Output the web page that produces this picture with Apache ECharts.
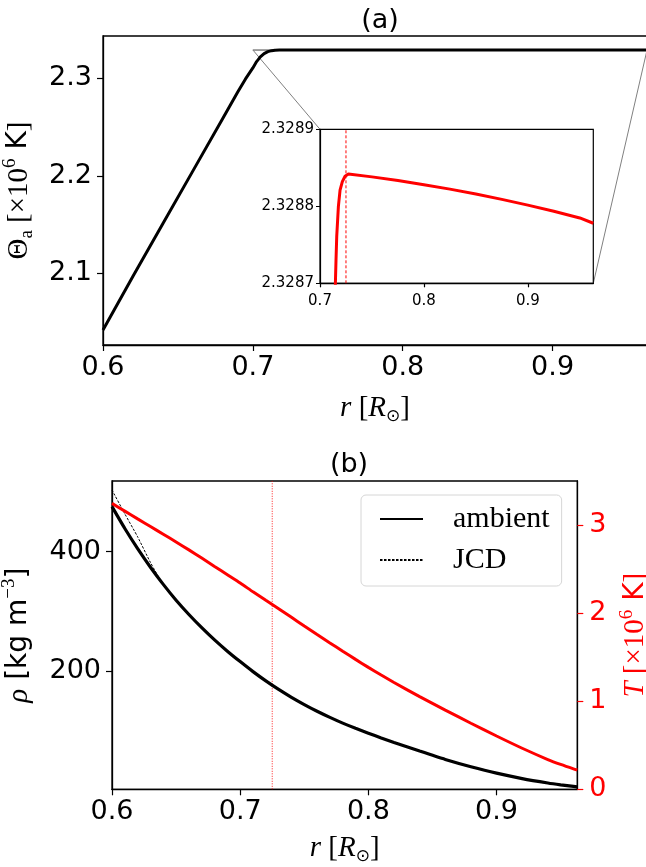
<!DOCTYPE html>
<html><head><meta charset="utf-8">
<script src="https://cdn.jsdelivr.net/npm/echarts@6/dist/echarts.min.js"></script>
<style>html,body{margin:0;padding:0;background:#fff}#c{width:646px;height:867px}</style>
</head><body><div id="c"></div>
<script>
// ---- panel (a): Theta_a vs r ----
const thetaR   = [0.6, 0.62, 0.64, 0.66, 0.68, 0.69, 0.695, 0.7, 0.7025, 0.705, 0.7075, 0.71, 0.7125, 0.7148, 0.7154, 0.7161, 0.7177, 0.7193, 0.7215, 0.7241, 0.7273, 0.75, 0.775, 0.8, 0.825, 0.85, 0.875, 0.9, 0.925, 0.95, 0.963];
const thetaVal = [2.0420, 2.0970, 2.1510, 2.2050, 2.2590, 2.2860, 2.2990, 2.3105, 2.3170, 2.3218, 2.3252, 2.3272, 2.3282, 2.3287, 2.32873, 2.328761, 2.3288, 2.328821, 2.328832, 2.328839, 2.328842, 2.3288382, 2.3288334, 2.3288281, 2.3288223, 2.3288159, 2.3288090, 2.3288015, 2.3287935, 2.3287849, 2.328778];
const insetXRange = [0.7, 0.963];
const insetYRange = [2.3287, 2.3289];
const bczR = 0.725;
const xTicks = [0.6, 0.7, 0.8, 0.9];
const thetaTicks = [2.1, 2.2, 2.3];
const insetXTicks = [0.7, 0.8, 0.9];
const insetYTicks = [2.3287, 2.3288, 2.3289];
// ---- panel (b): rho and T vs r ----
const rR     = [0.60, 0.61, 0.62, 0.63, 0.64, 0.65, 0.66, 0.67, 0.68, 0.69, 0.70, 0.71, 0.72, 0.73, 0.74, 0.75, 0.76, 0.77, 0.78, 0.79, 0.80, 0.81, 0.82, 0.84, 0.86, 0.88, 0.90, 0.92, 0.94, 0.95, 0.96, 0.963];
const rhoAmb = [475.5, 438.9, 405.2, 374.0, 345.3, 318.8, 294.9, 272.8, 252.3, 233.4, 215.9, 199.1, 183.6, 169.3, 156.1, 144.0, 132.8, 122.5, 112.9, 104.2, 96.1, 88.1, 80.5, 66.0, 52.0, 39.8, 29.0, 20.0, 12.6, 9.5, 6.8, 6.0];
const rhoJCD = [503.4, 463.5, 425.0, 382.0, 344.5, 317.6, 293.7, 271.7, 251.3, 232.4, 215.0, 198.3, 182.8, 168.6, 155.5, 143.4, 132.3, 122.0, 112.4, 103.8, 95.7, 87.8, 80.2, 65.7, 51.8, 39.6, 28.9, 19.9, 12.5, 9.4, 6.7, 5.9];
const tempT  = [3.246, 3.158, 3.070, 2.983, 2.896, 2.808, 2.718, 2.625, 2.530, 2.436, 2.342, 2.242, 2.145, 2.050, 1.952, 1.853, 1.757, 1.662, 1.568, 1.475, 1.384, 1.297, 1.213, 1.052, 0.899, 0.750, 0.605, 0.466, 0.338, 0.282, 0.232, 0.219];
const rhoRange = [2, 518.5];
const tRange = [0, 3.5];
const rhoTicks = [200, 400];
const tTicks = [0, 1, 2, 3];
const legendNames = ['ambient', 'JCD'];

const zip = (a, b) => a.map((v, i) => [v, b[i]]);
const SANS = 'DejaVu Sans';
const SERIF = 'Liberation Serif';
const FS = 27;

function xAxisCfg(grid, min, max, ticks, fs, name, nameGap, tickLen, margin) {
  return {
    type: 'value', gridIndex: grid, min, max,
    axisLine: { onZero: false, lineStyle: { color: '#000', width: 1.3 } },
    axisTick: { inside: false, length: tickLen, customValues: ticks, lineStyle: { color: '#000', width: 1.2 } },
    axisLabel: { customValues: ticks, formatter: v => v.toFixed(1), color: '#000', fontFamily: SANS, fontSize: fs, margin },
    splitLine: { show: false },
    name: name, nameLocation: 'middle', nameGap: nameGap,
    nameTextStyle: {
      rich: {
        i: { fontFamily: SERIF, fontStyle: 'italic', fontSize: 29, lineHeight: 34, color: '#000' },
        n: { fontFamily: SERIF, fontSize: 29, lineHeight: 34, color: '#000' },
        sub: { fontFamily: 'DejaVu Sans', fontSize: 17, lineHeight: 17, verticalAlign: 'bottom', color: '#000' }
      }
    }
  };
}
const rName = '{i|r}{n| [}{i|R}{sub|⊙}{n|]}';
const gridBase = { show: true, borderColor: '#000', borderWidth: 1.3, backgroundColor: 'transparent', outerBoundsMode: 'none', containLabel: false };

const option = {
  animation: false,
  backgroundColor: '#fff',
  title: [
    { text: '(a)', left: 375, top: 2, textAlign: 'center', textStyle: { fontFamily: SANS, fontSize: FS, fontWeight: 'normal', color: '#000' } },
    { text: '(b)', left: 344, top: 446, textAlign: 'center', textStyle: { fontFamily: SANS, fontSize: FS, fontWeight: 'normal', color: '#000' } }
  ],
  grid: [
    Object.assign({}, gridBase, { left: 103, top: 36, width: 544, height: 309 }),
    Object.assign({}, gridBase, { left: 112, top: 481, width: 465.3, height: 308.3 }),
    Object.assign({}, gridBase, { left: 320, top: 129.3, width: 273.3, height: 154, borderWidth: 1.2, backgroundColor: '#fff', z: 3 })
  ],
  xAxis: [
    xAxisCfg(0, 0.6, 0.963, xTicks, FS, rName, 46, 6, 9),
    xAxisCfg(1, 0.6, 0.963, xTicks, FS, rName, 42, 6, 9),
    Object.assign(xAxisCfg(2, insetXRange[0], insetXRange[1], insetXTicks, 15, '', 0, 4, 10), { z: 4 })
  ],
  yAxis: [
    {
      type: 'value', gridIndex: 0, min: 2.0266, max: 2.3432,
      axisLine: { onZero: false, lineStyle: { color: '#000', width: 1.3 } },
      axisTick: { length: 6, customValues: thetaTicks, lineStyle: { color: '#000', width: 1.2 } },
      axisLabel: { customValues: thetaTicks, formatter: v => v.toFixed(1), color: '#000', fontFamily: SANS, fontSize: FS, margin: 11 },
      splitLine: { show: false },
      name: '{t|Θ}{sub|a}{n| [×10}{sup|6}{k| K}{n|]}', nameLocation: 'middle', nameGap: 66, nameRotate: 90,
      nameTextStyle: {
        rich: {
          t: { fontFamily: SERIF, fontSize: 29, lineHeight: 36, color: '#000' },
          n: { fontFamily: SERIF, fontSize: 29, lineHeight: 36, color: '#000' },
          k: { fontFamily: SANS, fontSize: 28, lineHeight: 36, color: '#000' },
          sub: { fontFamily: SERIF, fontSize: 19, lineHeight: 19, verticalAlign: 'bottom', color: '#000' },
          sup: { fontFamily: SERIF, fontSize: 19, lineHeight: 19, verticalAlign: 'top', color: '#000' }
        }
      }
    },
    {
      type: 'value', gridIndex: 1, min: rhoRange[0], max: rhoRange[1],
      axisLine: { onZero: false, lineStyle: { color: '#000', width: 1.3 } },
      axisTick: { length: 6, customValues: rhoTicks, lineStyle: { color: '#000', width: 1.2 } },
      axisLabel: { customValues: rhoTicks, color: '#000', fontFamily: SANS, fontSize: FS, margin: 11 },
      splitLine: { show: false },
      name: '{i|ρ}{n| [kg m}{sup|−3}{n|]}', nameLocation: 'middle', nameGap: 74, nameRotate: 90,
      nameTextStyle: {
        rich: {
          i: { fontFamily: SERIF, fontStyle: 'italic', fontSize: 29, lineHeight: 38, color: '#000' },
          n: { fontFamily: SANS, fontSize: 28, lineHeight: 38, color: '#000' },
          sup: { fontFamily: SERIF, fontSize: 19, lineHeight: 19, verticalAlign: 'top', color: '#000' }
        }
      }
    },
    {
      type: 'value', gridIndex: 1, position: 'right', min: tRange[0], max: tRange[1],
      axisLine: { onZero: false, lineStyle: { color: '#000', width: 1.3 } },
      axisTick: { length: 6, customValues: tTicks, lineStyle: { color: '#ff0000', width: 1.2 } },
      axisLabel: { customValues: tTicks, color: '#ff0000', fontFamily: SANS, fontSize: FS, margin: 12 },
      splitLine: { show: false },
      name: '{i|T}{n| [×10}{sup|6}{k| K}{n|]}', nameLocation: 'middle', nameGap: 34, nameRotate: 90,
      nameTextStyle: {
        rich: {
          i: { fontFamily: SERIF, fontStyle: 'italic', fontSize: 29, lineHeight: 36, color: '#ff0000' },
          n: { fontFamily: SERIF, fontSize: 29, lineHeight: 36, color: '#ff0000' },
          k: { fontFamily: SANS, fontSize: 28, lineHeight: 36, color: '#ff0000' },
          sup: { fontFamily: SERIF, fontSize: 19, lineHeight: 19, verticalAlign: 'top', color: '#ff0000' }
        }
      }
    },
    {
      type: 'value', gridIndex: 2, min: insetYRange[0], max: insetYRange[1], z: 4,
      axisLine: { onZero: false, lineStyle: { color: '#000', width: 1.2 } },
      axisTick: { length: 4, customValues: insetYTicks, lineStyle: { color: '#000', width: 1 } },
      axisLabel: { customValues: insetYTicks, formatter: v => v.toFixed(4), color: '#000', fontFamily: SANS, fontSize: 15, margin: 6 },
      splitLine: { show: false }
    }
  ],
  legend: {
    orient: 'vertical', left: 361, top: 495,
    data: legendNames,
    itemWidth: 43, itemHeight: 14, itemGap: 11,
    padding: [9, 12, 11, 18],
    backgroundColor: '#fff', borderColor: '#d6d6d6', borderWidth: 1, borderRadius: 5,
    itemStyle: { color: 'transparent', borderColor: 'transparent', borderWidth: 0, opacity: 0 },
    textStyle: { fontFamily: SERIF, fontSize: 30, lineHeight: 30, color: '#000', padding: [0, 0, 0, 25] }
  },
  series: [
    { type: 'line', name: 'zoomBox', xAxisIndex: 0, yAxisIndex: 0, symbol: 'none', silent: true,
      data: [[insetXRange[0], insetYRange[0]], [insetXRange[1], insetYRange[0]], [insetXRange[1], insetYRange[1]], [insetXRange[0], insetYRange[1]], [insetXRange[0], insetYRange[0]]],
      lineStyle: { color: '#808080', width: 1 }, z: 1 },
    { type: 'line', name: 'theta', xAxisIndex: 0, yAxisIndex: 0, symbol: 'none', data: zip(thetaR, thetaVal),
      lineStyle: { color: '#000', width: 3 }, z: 2 },
    { type: 'line', name: 'bczInset', xAxisIndex: 2, yAxisIndex: 3, symbol: 'none', silent: true,
      data: [[bczR, insetYRange[0]], [bczR, insetYRange[1]]],
      lineStyle: { color: '#ff0000', width: 1, type: [3, 2] }, z: 4 },
    { type: 'line', name: 'thetaInset', xAxisIndex: 2, yAxisIndex: 3, symbol: 'none', clip: true, data: zip(thetaR, thetaVal),
      lineStyle: { color: '#ff0000', width: 3 }, z: 5 },
    { type: 'line', name: 'bczB', xAxisIndex: 1, yAxisIndex: 1, symbol: 'none', silent: true,
      data: [[bczR, rhoRange[0]], [bczR, rhoRange[1]]],
      lineStyle: { color: '#ff0000', width: 0.9, type: [1, 1.5] }, z: 1 },
    { type: 'line', name: 'ambient', xAxisIndex: 1, yAxisIndex: 1, symbol: 'none', data: zip(rR, rhoAmb),
      smooth: 0.2, itemStyle: { color: '#000' },
      lineStyle: { color: '#000', width: 3.2 }, z: 2 },
    { type: 'line', name: 'JCD', xAxisIndex: 1, yAxisIndex: 1, symbol: 'none', data: zip(rR, rhoJCD),
      smooth: 0.2, itemStyle: { color: '#000' },
      lineStyle: { color: '#000', width: 1, type: [2.5, 1.5] }, z: 3 },
    { type: 'line', name: 'T', xAxisIndex: 1, yAxisIndex: 2, symbol: 'none', data: zip(rR, tempT),
      smooth: 0.2, itemStyle: { color: '#ff0000' },
      lineStyle: { color: '#ff0000', width: 3 }, z: 4 }
  ]
};

const chart = echarts.init(document.getElementById('c'), null, { renderer: 'canvas' });
chart.setOption(option);

// connector lines between zoom box and inset, computed through the axes
const p1 = chart.convertToPixel({ xAxisIndex: 0, yAxisIndex: 0 }, [insetXRange[0], insetYRange[1]]);
const q1 = chart.convertToPixel({ xAxisIndex: 2, yAxisIndex: 3 }, [insetXRange[0], insetYRange[1]]);
const p2 = chart.convertToPixel({ xAxisIndex: 0, yAxisIndex: 0 }, [insetXRange[1], insetYRange[0]]);
const q2 = chart.convertToPixel({ xAxisIndex: 2, yAxisIndex: 3 }, [insetXRange[1], insetYRange[0]]);
chart.setOption({
  graphic: [
    { type: 'line', shape: { x1: p1[0], y1: p1[1], x2: q1[0], y2: q1[1] }, style: { stroke: '#808080', lineWidth: 1 }, z: 1, silent: true },
    { type: 'line', shape: { x1: p2[0], y1: p2[1], x2: q2[0], y2: q2[1] }, style: { stroke: '#808080', lineWidth: 1 }, z: 1, silent: true }
  ]
});
</script>
</body></html>
